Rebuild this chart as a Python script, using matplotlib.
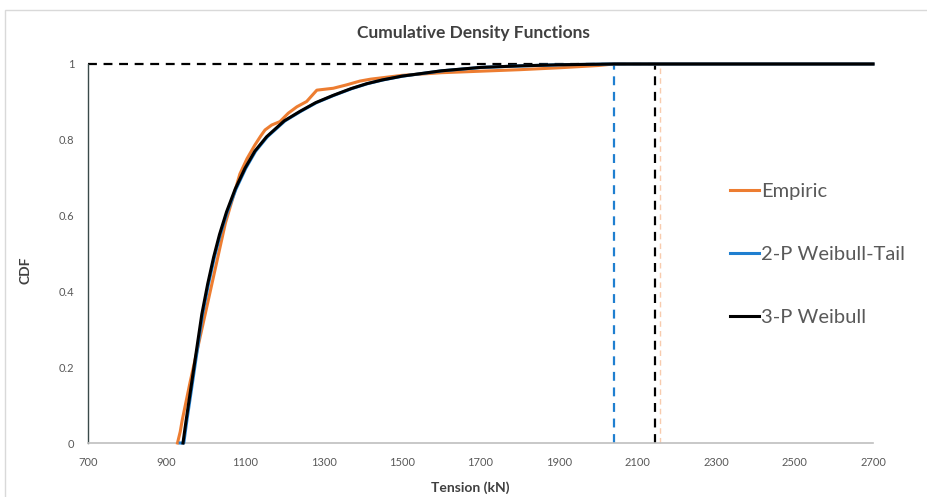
import matplotlib
matplotlib.use("Agg")
import matplotlib.pyplot as plt
from matplotlib.patches import Rectangle

plt.rcParams['font.family'] = ['Lato', 'DejaVu Sans']

# values
emp_x = [928, 935, 940, 948, 960, 975, 990, 1005, 1020, 1035, 1050, 1070, 1087, 1105,
         1125, 1140, 1151, 1168, 1189, 1210, 1232, 1257, 1283, 1325, 1359, 1393, 1420,
         1500, 1600, 1700, 1800, 1900, 2000, 2040, 2700]
emp_y = [0.0, 0.03, 0.06, 0.10, 0.16, 0.23, 0.30, 0.37, 0.44, 0.51, 0.58, 0.65, 0.71, 0.75,
         0.786, 0.81, 0.826, 0.839, 0.848, 0.870, 0.887, 0.901, 0.931, 0.936, 0.945, 0.955, 0.960,
         0.970, 0.977, 0.981, 0.985, 0.990, 0.996, 1.0, 1.0]

w3_x = [942, 950, 960, 970, 980, 990, 1005, 1020, 1035, 1053, 1075, 1100, 1125, 1155,
        1200, 1240, 1280, 1324, 1370, 1410, 1450, 1500, 1600, 1700, 1800, 1900, 2040, 2700]
w3_y = [0.0, 0.06, 0.13, 0.20, 0.27, 0.34, 0.42, 0.49, 0.55, 0.61, 0.67, 0.725, 0.77, 0.808,
        0.85, 0.875, 0.898, 0.917, 0.935, 0.948, 0.958, 0.968, 0.982, 0.991, 0.995, 0.998, 1.0, 1.0]

w2_x = [935, 944, 952, 962, 972, 982, 992, 1007, 1022, 1037, 1055, 1077, 1102, 1127, 1157,
        1202, 1242, 1282, 1326, 1372, 1412, 1452, 1502, 1602, 1702, 1802, 1902, 2040, 2700]
w2_y = [0.0, 0.0, 0.06, 0.13, 0.20, 0.27, 0.34, 0.42, 0.49, 0.55, 0.61, 0.67, 0.725, 0.77, 0.808,
        0.85, 0.875, 0.898, 0.917, 0.935, 0.948, 0.958, 0.968, 0.982, 0.991, 0.995, 0.998, 1.0, 1.0]

x_ticks = [700, 900, 1100, 1300, 1500, 1700, 1900, 2100, 2300, 2500, 2700]
y_ticks = [0, 0.2, 0.4, 0.6, 0.8, 1]
y_labels = ['0', '0.2', '0.4', '0.6', '0.8', '1']

tail_2p = 2040   # blue dashed marker
tail_3p = 2145   # black dashed marker
tail_emp = 2157  # faint orange dashed marker

ORANGE = '#ED7D31'
BLUE = '#1F7FD0'
GRAY = '#595959'

fig = plt.figure(figsize=(9.27, 4.97), dpi=100)
fig.patches.append(Rectangle((5 / 927, -0.02), 1.0, (497 - 10) / 497 + 0.02,
                             transform=fig.transFigure, fill=False,
                             edgecolor='#D9D9D9', linewidth=1))
ax = fig.add_axes([88 / 927, 54 / 497, 785 / 927, 379 / 497])

# reference lines
ax.plot([700, tail_3p], [1, 1], color='black', linestyle=(0, (4, 3)), linewidth=1.6, clip_on=False)
ax.plot([tail_emp, tail_emp], [0, 1], color='#F8CBAD', linestyle=(0, (4, 3)), linewidth=1.0, clip_on=False)
ax.plot([tail_2p, tail_2p], [0, 1], color=BLUE, linestyle=(0, (4, 3)), linewidth=1.6, clip_on=False)
ax.plot([tail_3p, tail_3p], [0, 1], color='black', linestyle=(0, (4, 3)), linewidth=1.6, clip_on=False)

ax.plot(emp_x, emp_y, color=ORANGE, linewidth=2.2, label='Empiric', clip_on=False, zorder=3)
ax.plot(w2_x, w2_y, color=BLUE, linewidth=2.2, label='2-P Weibull-Tail', clip_on=False, zorder=4)
ax.plot(w3_x, w3_y, color='black', linewidth=2.2, label='3-P Weibull', clip_on=False, zorder=5)

ax.set_xlim(700, 2700)
ax.set_ylim(0, 1)
ax.set_xticks(x_ticks)
ax.set_xticklabels([str(t) for t in x_ticks])
ax.set_yticks(y_ticks)
ax.set_yticklabels(y_labels)
ax.tick_params(axis='both', length=0, labelsize=8, colors=GRAY, pad=10)

for s in ['top', 'right']:
    ax.spines[s].set_visible(False)
ax.spines['bottom'].set_color('#BFBFBF')
ax.spines['bottom'].set_linewidth(1.2)
ax.spines['left'].set_color('#3A4A4A')
ax.spines['left'].set_linewidth(1.0)

ax.set_xlabel('Tension (kN)', fontsize=10, fontweight='bold', color='#404040')
ax.set_ylabel('CDF', fontsize=10, fontweight='bold', color='#404040')
ax.xaxis.set_label_coords(0.487, -0.119)
ax.yaxis.set_label_coords(-0.080, 0.456)
ax.xaxis.label.set_va('center')
ax.yaxis.label.set_va('center')
fig.text(473 / 927, 1 - 33 / 497, 'Cumulative Density Functions', ha='center', va='center',
         fontsize=12.5, fontweight='bold', color='#404040')

leg = ax.legend(loc='upper left', bbox_to_anchor=(0.795, 0.735), frameon=False,
                fontsize=14.5, labelspacing=2.3, handlelength=1.45, handletextpad=0.1)
for t in leg.get_texts():
    t.set_color(GRAY)

fig.savefig('out.png', dpi=100)
